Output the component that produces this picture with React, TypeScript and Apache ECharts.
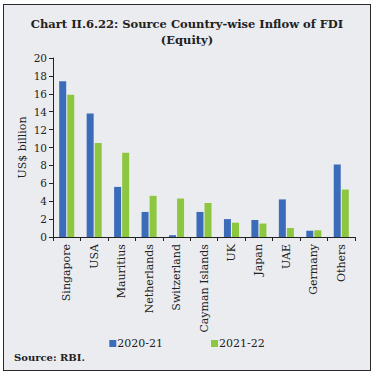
import React, { useEffect, useRef } from "react";
import * as echarts from "echarts";

const categories = ["Singapore", "USA", "Mauritius", "Netherlands", "Switzerland", "Cayman Islands", "UK", "Japan", "UAE", "Germany", "Others"];
const fy2021 = [17.4, 13.8, 5.6, 2.8, 0.2, 2.8, 2.0, 1.9, 4.2, 0.7, 8.1];
const fy2122 = [15.9, 10.5, 9.4, 4.6, 4.3, 3.8, 1.6, 1.5, 1.0, 0.75, 5.3];
const seriesNames = ["2020-21", "2021-22"];
const titleText = "Chart II.6.22: Source Country-wise Inflow of FDI\n(Equity)";
const yName = "US$ billion";
const sourceText = "Source: RBI.";

const SERIF = "'DejaVu Serif', 'Liberation Serif', serif";

export default function App() {
  const ref = useRef<HTMLDivElement>(null);
  useEffect(() => {
    if (!ref.current) return;
    const chart = echarts.init(ref.current, undefined, { renderer: "svg" });
    chart.setOption({
      animation: false,
      backgroundColor: "transparent",
      title: {
        text: titleText,
        left: "center",
        top: 11,
        textStyle: {
          fontFamily: SERIF,
          fontWeight: "bold",
          fontSize: 11.5,
          lineHeight: 16,
          color: "#222",
        },
      },
      legend: {
        data: seriesNames,
        left: "center",
        top: 333,
        itemWidth: 7,
        itemHeight: 7,
        itemGap: 48,
        icon: "rect",
        textStyle: { fontFamily: SERIF, fontSize: 11, color: "#222", padding: [0, 0, 0, -4] },
      },
      graphic: [
        {
          type: "text",
          left: 14,
          top: 352,
          style: { text: sourceText, font: "bold 10px " + SERIF, fill: "#222" },
        },
      ],
      grid: { left: 53, right: 19, top: 58, bottom: 139, containLabel: false },
      xAxis: {
        type: "category",
        data: categories,
        axisLine: { lineStyle: { color: "#222", width: 1 } },
        axisTick: { show: true, length: 4, lineStyle: { color: "#222" } },
        axisLabel: {
          rotate: 90,
          interval: 0,
          fontFamily: SERIF,
          fontSize: 11,
          color: "#222",
          margin: 7,
        },
      },
      yAxis: {
        type: "value",
        min: 0,
        max: 20,
        interval: 2,
        name: yName,
        nameLocation: "middle",
        nameGap: 25,
        nameMoveOverlap: false,
        nameTextStyle: { fontFamily: SERIF, fontSize: 11, color: "#222" },
        axisLine: { show: true, lineStyle: { color: "#222", width: 1 } },
        axisTick: { show: true, length: 4, lineStyle: { color: "#222" } },
        splitLine: { show: false },
        axisLabel: { fontFamily: SERIF, fontSize: 10.5, color: "#222", margin: 6 },
      },
      series: [
        {
          name: seriesNames[0],
          type: "bar",
          data: fy2021,
          barWidth: 7,
          barGap: "15%",
          itemStyle: { color: "#3A6CB9" },
        },
        {
          name: seriesNames[1],
          type: "bar",
          data: fy2122,
          barWidth: 7,
          itemStyle: { color: "#8DC63F" },
        },
      ],
    });
    return () => chart.dispose();
  }, []);
  return (
    <div style={{ position: "absolute", left: 0, top: 0, width: 374, height: 376, background: "#fff" }}>
      <div
        style={{
          position: "absolute",
          left: 3,
          top: 4,
          width: 366,
          height: 365,
          border: "1.5px solid #2a2a2a",
          background: "#EBECF0",
        }}
      />
      <div ref={ref} style={{ position: "absolute", left: 0, top: 0, width: 374, height: 376 }} />
    </div>
  );
}
